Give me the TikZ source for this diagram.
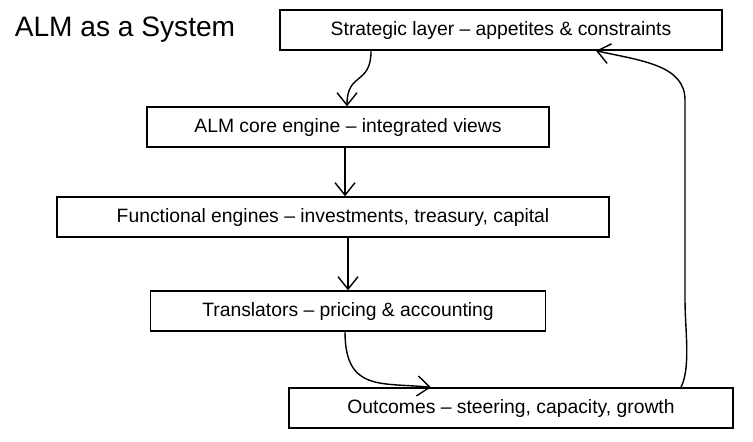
\documentclass[tikz,border=0pt]{standalone}
\usepackage{fontspec}
\setmainfont{Liberation Sans}
\usetikzlibrary{arrows.meta,positioning}
\tikzset{
    % Box styles
    layer box/.style={
        draw=black,
        thick,
        rectangle,
        minimum height=0.8cm,
        align=center,
        font=\fontsize{11}{13}\selectfont
    },
    % Arrow styles
    flow arrow/.style={
        -{Straight Barb[length=2.5mm,width=4mm]},
        thick,
        black
    }
}
\begin{document}
\begin{tikzpicture}[x=0.02cm,y=-0.02cm]
        \useasboundingbox (0,0) rectangle (753,441);

        % Title
        \node[font=\fontsize{16}{18}\selectfont] (title) at (125,30) {ALM as a System};

        % Layers
        \node[layer box, minimum width=8.84cm] (strategic) at (501,30) {Strategic layer -- appetites \& constraints};
        \node[layer box, minimum width=8.04cm] (core) at (348,127) {ALM core engine -- integrated views};
        \node[layer box, minimum width=11.04cm] (functional) at (333,217) {Functional engines -- investments, treasury, capital};
        \node[layer box, minimum width=7.9cm] (translators) at (348,311) {Translators -- pricing \& accounting};
        \node[layer box, minimum width=8.88cm] (outcomes) at (511,408) {Outcomes -- steering, capacity, growth};

        % Connections
        \draw[flow arrow] ([xshift=-2.6cm]strategic.south) .. controls +(0,35) and +(0,-35) .. ([xshift=-0.02cm]core.north);
        \draw[flow arrow] ([xshift=-0.06cm]core.south) -- ([xshift=-0.06cm]functional.north -| core.south);
        \draw[flow arrow] (functional.south -| translators.north) -- (translators.north);
        \draw[flow arrow] ([xshift=-0.06cm]translators.south) .. controls +(0,60) and +(-50,-5) .. ([xshift=-1.6cm]outcomes.north);
        \draw[flow arrow] ([xshift=3.4cm]outcomes.north) .. controls +(10,-20) and +(0,30) .. (685,300)
            -- (685,100) .. controls +(0,-35) and +(45,10) .. ([xshift=1.9cm]strategic.south);
    \end{tikzpicture}
\end{document}
